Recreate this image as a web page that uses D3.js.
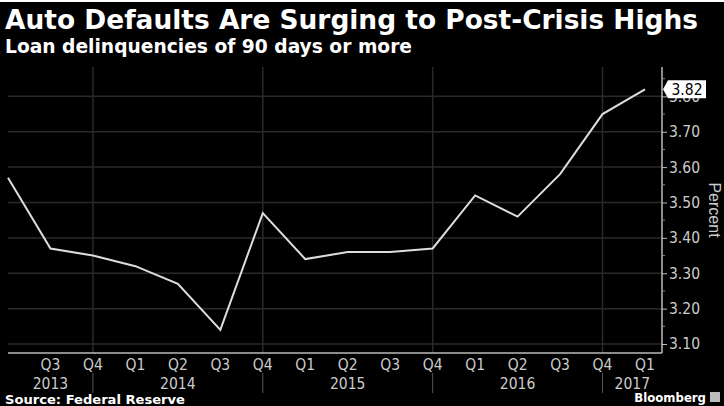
<!DOCTYPE html>
<html><head><meta charset="utf-8">
<script src="https://cdn.jsdelivr.net/npm/d3@7/dist/d3.min.js"></script>
<style>
html,body{margin:0;padding:0;background:#000;}
svg{display:block;}
</style></head>
<body>
<svg id="chart" width="724" height="406"></svg>
<script>
// ---- data ----
const quarters = ["Q2","Q3","Q4","Q1","Q2","Q3","Q4","Q1","Q2","Q3","Q4","Q1","Q2","Q3","Q4","Q1"];
const years    = [2013,2013,2013,2014,2014,2014,2014,2015,2015,2015,2015,2016,2016,2016,2016,2017];
const values   = [3.57,3.37,3.35,3.32,3.27,3.14,3.47,3.34,3.36,3.36,3.37,3.52,3.46,3.58,3.75,3.82];
const yTicks   = [3.10,3.20,3.30,3.40,3.50,3.60,3.70,3.80];
const lastLabel = "3.82";
const titleText = "Auto Defaults Are Surging to Post-Crisis Highs";
const subtitleText = "Loan delinquencies of 90 days or more";
const sourceText = "Source: Federal Reserve";

(function () {
const svg = d3.select("#chart");
const W = 724, H = 406;
const pLeft = 8, pRight = 662, pTop = 67, pBottom = 353;

svg.append("rect").attr("width", W).attr("height", H).attr("fill", "#000");
svg.append("rect").attr("width", W).attr("height", 2).attr("fill", "#fff");

const narrow = "'Liberation Sans Narrow','DejaVu Sans Condensed','Liberation Sans',sans-serif";
const cond = "'DejaVu Sans Condensed','DejaVu Sans',sans-serif";

// scales
const x = d3.scaleLinear().domain([0, values.length - 1]).range([pLeft, 645]);
const y = d3.scaleLinear().domain([3.0746, 3.883]).range([pBottom, pTop]);

// horizontal grid
svg.append("g").selectAll("line").data(yTicks).join("line")
  .attr("x1", pLeft).attr("x2", pRight)
  .attr("y1", d => y(d)).attr("y2", d => y(d))
  .attr("stroke", "#2a2a2a").attr("stroke-width", 1.5);

// year separators (at Q4 points)
const sepIdx = quarters.map((q, i) => q === "Q4" ? i : -1).filter(i => i >= 0);
svg.append("g").selectAll("line").data(sepIdx).join("line")
  .attr("x1", d => x(d)).attr("x2", d => x(d))
  .attr("y1", pTop).attr("y2", pBottom)
  .attr("stroke", "#2a2a2a").attr("stroke-width", 1.5);
svg.append("g").selectAll("line").data(sepIdx).join("line")
  .attr("x1", d => x(d)).attr("x2", d => x(d))
  .attr("y1", 373).attr("y2", 393)
  .attr("stroke", "#555").attr("stroke-width", 1);

// x axis line
svg.append("line").attr("x1", pLeft).attr("x2", pRight).attr("y1", pBottom).attr("y2", pBottom)
  .attr("stroke", "#bbb").attr("stroke-width", 1.5);

// right y axis (3.80 sits under the last-value flag, as in the reference)
const yAxis = d3.axisRight(y).tickValues(yTicks).tickSize(5).tickPadding(2)
  .tickFormat(d3.format(".2f"));
const gy = svg.append("g").attr("transform", `translate(${pRight},0)`).call(yAxis);
gy.select(".domain").remove();
gy.selectAll(".tick line").attr("stroke", "#bbb");
gy.selectAll(".tick text").attr("fill", "#ccc").attr("font-family", narrow).attr("font-size", 15.5);
svg.append("line").attr("x1", pRight).attr("x2", pRight).attr("y1", pTop).attr("y2", pBottom)
  .attr("stroke", "#bbb").attr("stroke-width", 1.5);
// minor ticks
const minor = yTicks.map(d => d + 0.05).filter(d => y(d) > pTop);
svg.append("g").selectAll("line").data(minor).join("line")
  .attr("x1", pRight).attr("x2", pRight + 3)
  .attr("y1", d => y(d)).attr("y2", d => y(d))
  .attr("stroke", "#888");

// x quarter labels
svg.append("g").selectAll("text").data(quarters.slice(1)).join("text")
  .attr("x", (d, i) => x(i + 1)).attr("y", 370)
  .attr("text-anchor", "middle").attr("fill", "#ccc")
  .attr("font-family", narrow).attr("font-size", 15.5)
  .text(d => d);

// year labels centered in their spans
const yearList = Array.from(new Set(years));
const bounds = [pLeft, ...sepIdx.map(i => x(i)), pRight];
svg.append("g").selectAll("text").data(yearList).join("text")
  .attr("x", (d, i) => (bounds[i] + bounds[i + 1]) / 2).attr("y", 389)
  .attr("text-anchor", "middle").attr("fill", "#ccc")
  .attr("font-family", narrow).attr("font-size", 15.5)
  .text(d => d);

// line
svg.append("path").datum(values)
  .attr("d", d3.line().x((d, i) => x(i)).y(d => y(d)))
  .attr("fill", "none").attr("stroke", "#ddd").attr("stroke-width", 2)
  .attr("stroke-linejoin", "miter");

// last value label
const ly = y(values[values.length - 1]);
const lab = svg.append("g");
lab.append("path")
  .attr("d", `M${pRight + 1},${ly} L${pRight + 6},${ly - 9} L${pRight + 44},${ly - 9} L${pRight + 44},${ly + 9} L${pRight + 6},${ly + 9} Z`)
  .attr("fill", "#fff");
lab.append("text").attr("x", pRight + 25).attr("y", ly + 5.5)
  .attr("text-anchor", "middle").attr("fill", "#000")
  .attr("font-family", narrow).attr("font-size", 15.5).text(lastLabel);

// Percent axis title
svg.append("text")
  .attr("transform", `translate(709,210) rotate(90)`)
  .attr("text-anchor", "middle").attr("fill", "#ccc")
  .attr("font-family", "'Liberation Sans',sans-serif").attr("font-size", 16)
  .text("Percent");

// titles
svg.append("text").attr("x", 5).attr("y", 29)
  .attr("fill", "#fff").attr("font-family", cond).attr("font-weight", "bold")
  .attr("font-size", 26).attr("textLength", 693).attr("lengthAdjust", "spacingAndGlyphs")
  .text(titleText);
svg.append("text").attr("x", 5).attr("y", 53)
  .attr("fill", "#fff").attr("font-family", cond).attr("font-weight", "bold")
  .attr("font-size", 19).attr("textLength", 407).attr("lengthAdjust", "spacingAndGlyphs")
  .text(subtitleText);

// footer
svg.append("text").attr("x", 5).attr("y", 404)
  .attr("fill", "#fff").attr("font-family", cond).attr("font-weight", "bold")
  .attr("font-size", 13).attr("textLength", 180).attr("lengthAdjust", "spacingAndGlyphs")
  .text(sourceText);
svg.append("text").attr("x", 706).attr("y", 402)
  .attr("text-anchor", "end")
  .attr("fill", "#fff").attr("font-family", cond).attr("font-weight", "bold")
  .attr("font-size", 13)
  .text("Bloomberg");
svg.append("rect").attr("x", 710).attr("y", 392).attr("width", 10).attr("height", 10)
  .attr("fill", "#bbb");
})();
</script>
</body></html>
